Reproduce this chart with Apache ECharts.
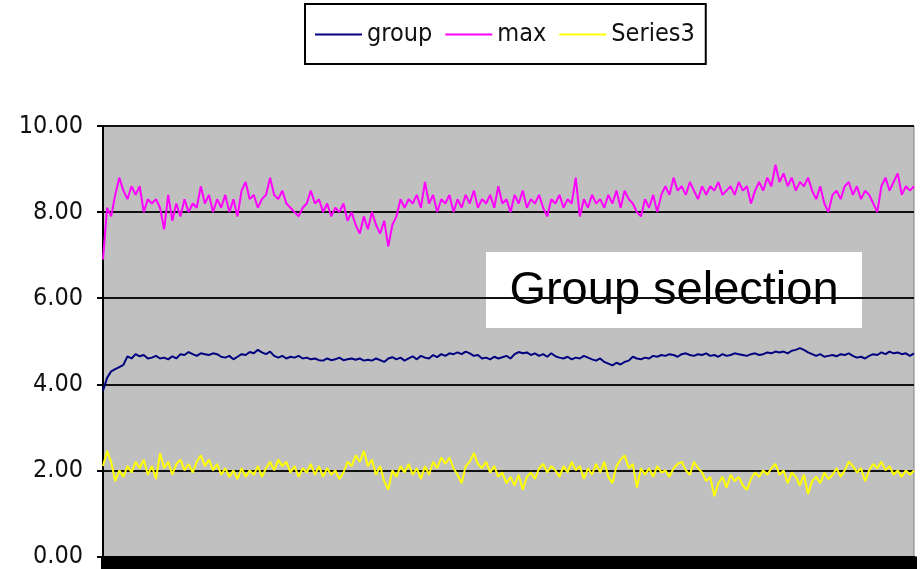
<!DOCTYPE html>
<html>
<head>
<meta charset="utf-8">
<style>
  html, body { margin: 0; padding: 0; background: #ffffff; }
  #chart { width: 922px; height: 569px; }
</style>
<script src="https://cdn.jsdelivr.net/npm/echarts@6/dist/echarts.min.js"></script>
</head>
<body>
<div id="chart"></div>
<script>
// Sample readings, one value per step along the run
const groupValues = [
  3.85,4.15,4.3,4.35,4.4,4.45,4.65,4.6,4.7,4.65,
  4.68,4.6,4.62,4.66,4.6,4.62,4.58,4.65,4.6,4.7,
  4.68,4.75,4.7,4.66,4.72,4.7,4.68,4.72,4.7,4.64,
  4.62,4.66,4.58,4.64,4.7,4.68,4.75,4.72,4.8,4.74,
  4.7,4.76,4.66,4.62,4.66,4.6,4.64,4.62,4.66,4.6,
  4.62,4.58,4.6,4.56,4.55,4.6,4.56,4.58,4.62,4.56,
  4.58,4.6,4.57,4.6,4.55,4.57,4.55,4.6,4.56,4.52,
  4.6,4.63,4.58,4.62,4.55,4.6,4.65,4.58,4.66,4.62,
  4.6,4.68,4.63,4.7,4.66,4.72,4.7,4.74,4.7,4.76,
  4.72,4.66,4.68,4.6,4.62,4.58,4.64,4.6,4.63,4.66,
  4.6,4.7,4.75,4.72,4.74,4.68,4.72,4.66,4.7,4.64,
  4.72,4.65,4.62,4.6,4.64,4.58,4.62,4.6,4.66,4.62,
  4.58,4.55,4.6,4.52,4.48,4.44,4.5,4.46,4.52,4.55,
  4.64,4.6,4.58,4.62,4.6,4.66,4.64,4.68,4.66,4.7,
  4.68,4.64,4.7,4.72,4.68,4.66,4.7,4.68,4.72,4.66,
  4.68,4.64,4.7,4.66,4.68,4.72,4.7,4.68,4.66,4.7,
  4.72,4.68,4.7,4.74,4.72,4.76,4.74,4.76,4.72,4.78,
  4.8,4.84,4.8,4.74,4.7,4.66,4.7,4.64,4.66,4.68,
  4.65,4.7,4.68,4.72,4.66,4.62,4.64,4.6,4.66,4.7,
  4.68,4.74,4.7,4.76,4.72,4.74,4.7,4.72,4.66,4.72
];

const maxValues = [
  6.9,8.1,7.9,8.4,8.8,8.5,8.3,8.6,8.4,8.6,
  8.0,8.3,8.2,8.3,8.1,7.6,8.4,7.8,8.2,7.9,
  8.3,8.0,8.2,8.1,8.6,8.2,8.4,8.0,8.3,8.1,
  8.4,8.0,8.3,7.9,8.5,8.7,8.3,8.4,8.1,8.3,
  8.4,8.8,8.4,8.3,8.5,8.2,8.1,8.0,7.9,8.1,
  8.2,8.5,8.2,8.3,8.0,8.2,7.9,8.1,8.0,8.2,
  7.8,8.0,7.7,7.5,7.9,7.6,8.0,7.7,7.5,7.8,
  7.2,7.7,7.9,8.3,8.1,8.3,8.2,8.4,8.1,8.7,
  8.2,8.4,8.0,8.3,8.2,8.4,8.0,8.3,8.1,8.4,
  8.2,8.5,8.1,8.3,8.2,8.4,8.1,8.6,8.2,8.3,
  8.0,8.4,8.2,8.5,8.1,8.3,8.2,8.4,8.1,7.9,
  8.3,8.2,8.4,8.1,8.3,8.2,8.8,7.9,8.3,8.1,
  8.4,8.2,8.3,8.1,8.4,8.2,8.5,8.1,8.5,8.3,
  8.2,8.0,7.9,8.3,8.1,8.4,8.0,8.4,8.6,8.4,
  8.8,8.5,8.6,8.4,8.7,8.5,8.3,8.6,8.4,8.6,
  8.5,8.7,8.4,8.5,8.6,8.4,8.7,8.5,8.6,8.2,
  8.5,8.7,8.5,8.8,8.6,9.1,8.7,8.9,8.6,8.8,
  8.5,8.7,8.6,8.8,8.5,8.3,8.6,8.2,8.0,8.4,
  8.5,8.3,8.6,8.7,8.4,8.6,8.3,8.5,8.4,8.2,
  8.0,8.6,8.8,8.5,8.7,8.9,8.4,8.6,8.5,8.6
];

const series3Values = [
  2.1,2.45,2.2,1.75,2.0,1.85,2.1,1.95,2.2,2.05,
  2.25,1.9,2.1,1.8,2.4,2.05,2.2,1.9,2.15,2.25,
  2.0,2.15,1.95,2.2,2.35,2.1,2.25,2.0,2.15,1.9,
  2.05,1.85,2.0,1.8,2.05,1.85,2.0,1.9,2.1,1.85,
  2.05,2.2,2.0,2.25,2.1,2.2,1.95,2.1,1.85,2.05,
  1.95,2.15,1.9,2.1,1.85,2.05,1.9,2.0,1.8,1.95,
  2.2,2.1,2.35,2.2,2.45,2.1,2.25,1.9,2.1,1.75,
  1.55,2.0,1.85,2.1,1.95,2.15,1.9,2.05,1.8,2.1,
  1.9,2.2,2.05,2.3,2.15,2.3,2.05,1.9,1.7,2.1,
  2.2,2.4,2.15,2.05,2.2,1.95,2.1,1.85,1.95,1.7,
  1.85,1.65,1.9,1.55,1.85,1.95,1.8,2.05,2.15,1.95,
  2.1,2.0,1.85,2.1,1.95,2.2,2.0,2.1,1.8,2.05,
  1.9,2.15,1.95,2.2,1.85,1.7,2.1,2.25,2.35,2.05,
  2.15,1.6,2.05,1.9,2.05,1.85,2.1,1.95,2.0,1.85,
  2.05,2.15,2.2,2.0,1.9,2.2,2.05,1.95,1.75,1.85,
  1.4,1.7,1.85,1.6,1.9,1.75,1.85,1.65,1.55,1.8,
  1.95,1.85,2.0,1.9,2.05,2.15,1.9,2.0,1.7,1.95,
  1.85,1.65,1.9,1.45,1.75,1.85,1.7,1.95,1.8,1.9,
  2.05,1.85,2.0,2.2,2.1,1.95,2.05,1.75,2.0,2.15,
  2.05,2.2,2.0,2.1,1.9,2.0,1.85,2.0,1.9,2.0
];

const seriesNames = ['group', 'max', 'Series3'];
const seriesColors = ['#000080', '#ff00ff', '#ffff00'];
const yTicks = [0, 2, 4, 6, 8, 10];

// one category per sample step
const categories = groupValues.map((_, i) => String(i + 1));

const narrowFont = "'Liberation Sans Narrow', 'DejaVu Sans Condensed', 'Liberation Sans', sans-serif";

const chart = echarts.init(document.getElementById('chart'), null, { renderer: 'canvas' });

const valueSets = [groupValues, maxValues, series3Values];

chart.setOption({
  animation: false,
  backgroundColor: '#ffffff',
  legend: {
    data: seriesNames,
    left: 305,
    top: 4,
    icon: 'rect',
    itemWidth: 47,
    itemHeight: 2,
    itemGap: 13,
    padding: [18, 11, 17, 10],
    backgroundColor: '#ffffff',
    borderColor: '#000000',
    borderWidth: 2,
    borderRadius: 0,
    textStyle: { fontFamily: narrowFont, fontSize: 25, color: '#111111' }
  },
  grid: {
    left: 103,
    right: 8,
    top: 126,
    bottom: 12,
    show: true,
    backgroundColor: '#c0c0c0',
    borderColor: '#808080',
    borderWidth: 1
  },
  xAxis: {
    type: 'category',
    data: categories,
    boundaryGap: false,
    axisLine: { show: true, lineStyle: { color: '#000000', width: 2 } },
    axisTick: { show: true, interval: 0, length: 14, lineStyle: { color: '#000000', width: 5 } },
    axisLabel: { show: false },
    splitLine: { show: false }
  },
  yAxis: {
    type: 'value',
    min: yTicks[0],
    max: yTicks[yTicks.length - 1],
    interval: 2,
    axisLine: { show: true, lineStyle: { color: '#000000', width: 2 } },
    axisTick: { show: true, inside: false, length: 6, lineStyle: { color: '#000000', width: 2 } },
    axisLabel: {
      margin: 20,
      fontFamily: narrowFont,
      fontSize: 25,
      color: '#111111',
      formatter: v => v.toFixed(2)
    },
    splitLine: { show: true, lineStyle: { color: '#111111', width: 2 } }
  },
  series: seriesNames.map((name, k) => ({
    name,
    type: 'line',
    data: valueSets[k],
    symbol: 'none',
    z: 3,
    lineStyle: { color: seriesColors[k], width: 2 },
    itemStyle: { color: seriesColors[k] }
  })),
  graphic: [
    {
      type: 'group',
      left: 486,
      top: 252,
      children: [
        {
          type: 'rect',
          shape: { x: 0, y: 0, width: 376, height: 76 },
          style: { fill: '#ffffff' }
        },
        {
          type: 'text',
          x: 188,
          y: 39,
          style: {
            text: 'Group selection',
            fill: '#000000',
            font: "47px 'Liberation Sans', Arial, sans-serif",
            textAlign: 'center',
            textVerticalAlign: 'middle'
          }
        }
      ],
      z: 10
    }
  ]
});
</script>
</body>
</html>
